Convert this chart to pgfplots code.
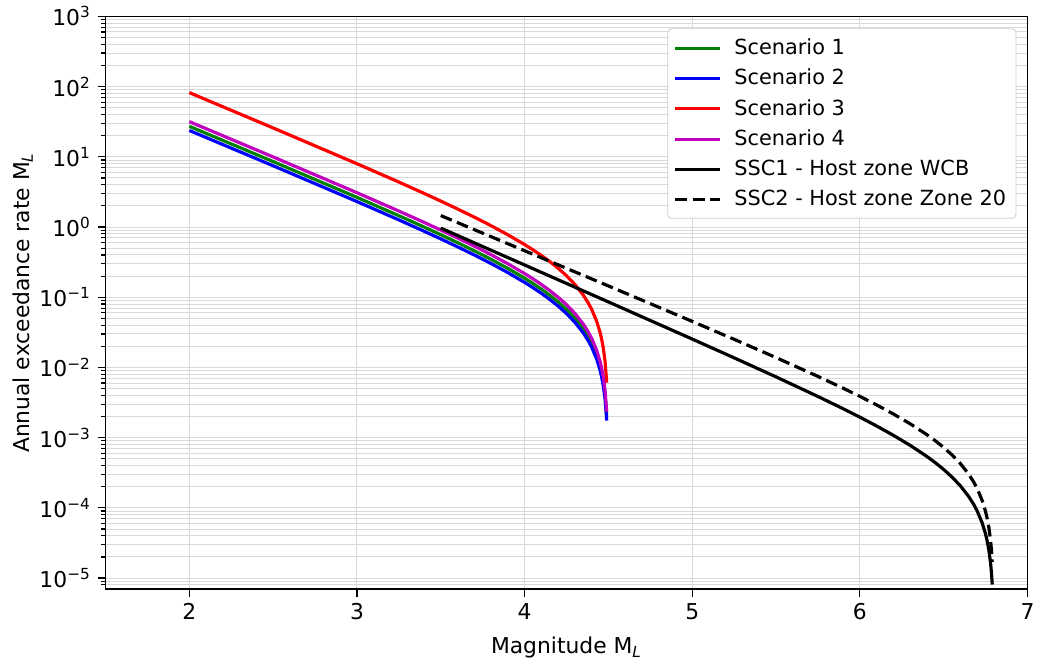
\documentclass[border=0pt]{standalone}
\usepackage{fontspec}
\setmainfont{DejaVu Sans}
\usepackage{pgfplots}
\pgfplotsset{compat=1.18}
\definecolor{mplgreen}{rgb}{0,0.5,0}
\definecolor{mplmag}{rgb}{0.75,0,0.75}
\begin{document}
\begin{tikzpicture}
\begin{axis}[
  scale only axis, width=464.5pt, height=288.5pt,
  xmin=1.5, xmax=7, ymode=log, ymin=7e-6, ymax=1e3,
  xtick={2,3,4,5,6,7},
  ytick={1e-5,1e-4,1e-3,1e-2,1e-1,1,10,100,1000},
  yticklabels={10\textsuperscript{−5},10\textsuperscript{−4},10\textsuperscript{−3},10\textsuperscript{−2},10\textsuperscript{−1},10\textsuperscript{0},10\textsuperscript{1},10\textsuperscript{2},10\textsuperscript{3}},
  minor ytick={8e-6,9e-6,
    2e-5,3e-5,4e-5,5e-5,6e-5,7e-5,8e-5,9e-5,
    2e-4,3e-4,4e-4,5e-4,6e-4,7e-4,8e-4,9e-4,
    2e-3,3e-3,4e-3,5e-3,6e-3,7e-3,8e-3,9e-3,
    2e-2,3e-2,4e-2,5e-2,6e-2,7e-2,8e-2,9e-2,
    0.2,0.3,0.4,0.5,0.6,0.7,0.8,0.9,
    2,3,4,5,6,7,8,9,
    20,30,40,50,60,70,80,90,
    200,300,400,500,600,700,800,900},
  xmajorgrids, ymajorgrids, yminorgrids,
  major grid style={gray!30, line width=0.5pt},
  minor grid style={gray!30, line width=0.5pt},
  tick align=outside, xtick pos=bottom, ytick pos=left,
  major tick length=3.9pt, minor tick length=2.2pt,
  tick style={black, line width=0.6pt},
  axis line style={line width=0.6pt},
  ticklabel style={font=\fontsize{11}{13}\selectfont},
  /pgf/number format/assume math mode=true,
  xlabel={Magnitude M\textsubscript{\textit{L}}},
  ylabel={Annual exceedance rate M\textsubscript{\textit{L}}},
  label style={font=\fontsize{11}{13}\selectfont},
  xlabel style={yshift=-1.5pt},
  ylabel shift=-3.5pt,
  legend style={at={(0.988,0.979)}, anchor=north east, draw=gray!40,
    rounded corners=2pt, font=\fontsize{10.5}{12.5}\selectfont, row sep=1.8pt,
    inner xsep=3pt, inner ysep=3pt},
  legend cell align=left,
  legend image code/.code={\draw[#1] (0pt,0pt) -- (22.5pt,0pt); \path (27pt,0pt);},
]
\addplot[mplgreen, line width=1.6pt] coordinates {
(2,27.21)(2.5,8.547)(3,2.644)(3.25,1.4489)(3.4,1.0005)(3.5,0.7770)(3.6,0.5994)
(3.7,0.4584)(3.75,0.3992)(3.8,0.34636)(3.9,0.25736)(4,0.1867)(4.05,0.15698)
(4.1,0.1305)(4.15,0.1069)(4.2,0.08592)(4.25,0.06719)(4.3,0.05049)(4.35,0.03561)
(4.38,0.02747)(4.4,0.02235)(4.43,0.01510)(4.45,0.01053)(4.46,0.008329)
(4.47,0.006173)(4.48,0.004068)(4.49,0.002009)};
\addlegendentry{Scenario 1}
\addplot[blue, line width=1.6pt] coordinates {
(2,23.72)(2.5,7.451)(3,2.305)(3.25,1.2631)(3.4,0.87225)(3.5,0.6774)(3.6,0.52258)
(3.7,0.39963)(3.75,0.3480)(3.8,0.30195)(3.9,0.22436)(4,0.1627)(4.05,0.13685)
(4.1,0.1138)(4.15,0.09323)(4.2,0.07491)(4.25,0.05857)(4.3,0.04402)(4.35,0.03105)
(4.38,0.02395)(4.4,0.01949)(4.43,0.01316)(4.45,0.009182)(4.46,0.007261)
(4.47,0.005381)(4.48,0.003546)(4.49,0.001752)};
\addlegendentry{Scenario 2}
\addplot[red, line width=1.6pt] coordinates {
(2,82.04)(2.5,25.77)(3,7.970)(3.25,4.368)(3.4,3.0162)(3.5,2.342)(3.6,1.8071)
(3.7,1.3819)(3.75,1.2033)(3.8,1.0441)(3.9,0.7758)(4,0.5628)(4.05,0.47324)
(4.1,0.3935)(4.15,0.3224)(4.2,0.2590)(4.25,0.2025)(4.3,0.1522)(4.35,0.1074)
(4.38,0.08283)(4.4,0.06739)(4.43,0.04552)(4.45,0.03175)(4.46,0.02511)
(4.47,0.01861)(4.48,0.01226)(4.49,0.006057)};
\addlegendentry{Scenario 3}
\addplot[mplmag, line width=1.6pt] coordinates {
(2,31.70)(2.5,9.956)(3,3.080)(3.25,1.6877)(3.4,1.1654)(3.5,0.9051)(3.6,0.6982)
(3.7,0.5340)(3.75,0.4649)(3.8,0.4034)(3.9,0.29978)(4,0.2174)(4.05,0.18286)
(4.1,0.1520)(4.15,0.1246)(4.2,0.10008)(4.25,0.07826)(4.3,0.05882)(4.35,0.04148)
(4.38,0.03200)(4.4,0.02604)(4.43,0.01759)(4.45,0.01227)(4.46,0.009702)
(4.47,0.00719)(4.48,0.004738)(4.49,0.002340)};
\addlegendentry{Scenario 4}
\addplot[black, line width=1.6pt] coordinates {
(3.5,0.9657)(4,0.28806)(4.5,0.08576)(5,0.025371)(5.25,0.013712)(5.5,0.007342)
(5.75,0.0038614)(5.9,0.0025862)(6,0.0019597)(6.1,0.0014676)(6.2,0.0010813)
(6.3,0.00077805)(6.4,0.0005398)(6.45,0.00044072)(6.5,0.00035276)(6.55,0.00027490)
(6.6,0.00020588)(6.65,0.00014475)(6.68,0.00011145)(6.7,0.00009056)(6.73,0.0000610)
(6.75,0.00004254)(6.76,0.0000336)(6.77,0.00002491)(6.78,0.0000164)
(6.785,0.00001219)(6.79,0.0000081)};
\addlegendentry{SSC1 - Host zone WCB}
\addplot[black, line width=1.6pt, dash pattern=on 6pt off 2.8pt] coordinates {
(3.5,1.4553)(4,0.4597)(4.5,0.14487)(5,0.045313)(5.25,0.025162)(5.5,0.013830)
(5.75,0.0074579)(5.9,0.0050667)(6,0.0038746)(6.1,0.0029276)(6.2,0.0021754)
(6.3,0.0015779)(6.4,0.0011032)(6.45,0.00090393)(6.5,0.00072627)(6.55,0.00056793)
(6.6,0.00042681)(6.65,0.00030104)(6.68,0.00023223)(6.7,0.00018894)(6.73,0.00012762)
(6.75,0.00008903)(6.76,0.0000704)(6.77,0.00005218)(6.78,0.0000344)
(6.785,0.00002564)(6.79,0.000017)};
\addlegendentry{SSC2 - Host zone Zone 20}
\end{axis}
\path (current bounding box.south west) ++(-3pt,-2pt);
\end{tikzpicture}
\end{document}
